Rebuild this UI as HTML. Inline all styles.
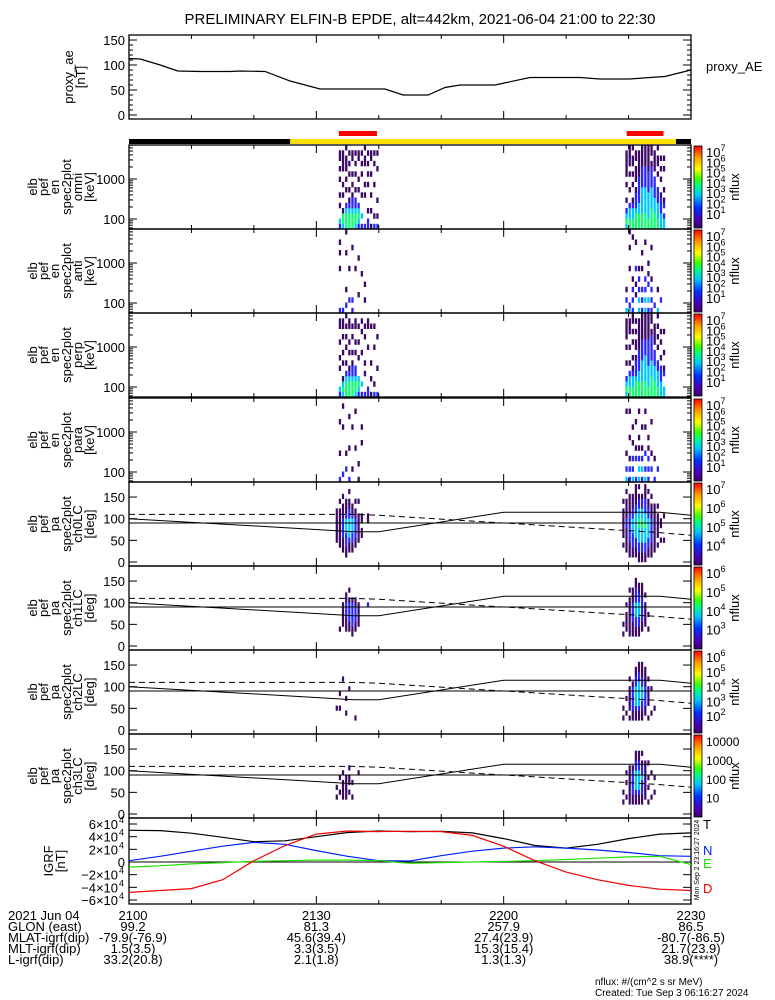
<!DOCTYPE html>
<html><head><meta charset="utf-8"><style>
html,body{margin:0;padding:0;background:#fff;}
svg{display:block;font-family:"Liberation Sans",sans-serif;}
</style></head><body>
<svg id="c" width="775" height="1000" viewBox="0 0 775 1000" xmlns="http://www.w3.org/2000/svg">
<rect width="775" height="1000" fill="#fff"/>
<text x="420" y="24" font-size="15" text-anchor="middle">PRELIMINARY ELFIN-B EPDE, alt=442km, 2021-06-04 21:00 to 22:30</text>
</svg>
<script>
// ---------- data ----------
const aeTimes = [0,1.8,5,7.8,11.4,16.2,17.8,21.8,25.8,30.6,41,43.9,47.9,50.6,53,58.6,64.2,72.2,75.4,80.2,83.4,85.8,90];
const aeValues = [113,112,100,88,87,87,88,87,68,52,52,40,40,55,60,60,75,75,72,72,75,77,90];
const aeTicks = [0,50,100,150];
const timeTickLabels = ["2100","2130","2200","2230"];
const timeTickMinutes = [0,30,60,90];
const eTicks = [100,1000];
const paTicks = [0,50,100,150];
const igrfTimes = [0,5,10,15,20,25,30,35,40,45,50,55,60,65,70,75,80,85,90];
const igrfT = [50000,49500,45500,39000,32000,33500,40000,46500,49000,48000,48500,46000,37000,26000,22000,28000,37000,44000,46000];
const igrfN = [2000,9000,17000,25000,31000,28000,18000,9000,2000,1500,10000,17000,22000,24000,22000,19000,15000,10000,9000];
const igrfE = [-8000,-6000,-3000,-1000,1000,2000,3000,3000,2000,-2000,-1000,0,1000,2000,4000,6000,8000,9000,-4000];
const igrfD = [-48000,-45000,-42000,-28000,2000,26000,44000,49000,48000,48500,48000,42000,25000,2000,-16000,-28000,-37000,-43000,-45000];
const lcTimes = [0,36,40,60,85,90];
const lcSolid = [100,70,70,115,115,108];
const lcDashed = [110,110,108,90,68,62];
const redBarStarts = [33.6,79.7];
const redBarEnds = [39.7,85.6];
const sunlitStart = 25.8, sunlitEnd = 87.6;
const blobStarts = [33.6,79.5];
// spectrogram columns: chars = log10 flux level per bin (bottom→top), '.' = no data
const specOmni = [[
"23..1.1..1.1.11.","3441..1.1..1111.","44432..1.1.111.1","444321.1..1.1.1.","4443221.1.1..11.","344322.1..1.1.1.","23432..1.1...11.","2.3...1...1.1.1.","2.....1.1...11.1","22.1....1.1.1.1.","1..1..1...1..11.","2.1.....1...1.1.","2.1..1.....1..1."],[
"3432.1..1.11111.","44332..1..1.1111","443321..1.1.11.1","44432221.111.11.","444332222211111.","4443333322221111","4443333322221111","4433333222211111","4444333322221.11","4443332222.1111.","44333222..1.11.1","3332221..1.1.1..","332.21.1...1.1.."]];
const specAnti = [[
"2.......1..1.1..","2...............",".2..1......1...1","..2.....1.......","2.2.........1...","........1.......","...1......1.....",".......1........","..1..1.........."],[
"3.2.1...........","32......1...1..1","2.2.2.1.......1.","...1.1..2....1..","3.3.2.2.1.......","2.2.2...1..1....","3.3.2.2......1..","2.3..2.1.1......","2.2.2.1.....1...",".2..............","3...1...........","..2............."]];
const specPerp = [[
"23...1.1..1..11.","3431..1.1..1.11.","44432.1..1.1.1.1","444321..1.1..11.","4443221.1..1.1..","344322..1.1..11.","2343...1..1..1..","2.3.....1...1.1.","2...1.1....1.1..","22.......1...11.","1..1..1......1..","2.1......1...1..","2....1.....1...."],[
"3432..1..1.1111.","44332.1..1..111.","443321.1..1.1.11","44432221.11.1.1.","444332222111111.","4443333222211111","4443333322211111","4433332222211111","4444333222221.11","444333222.1111..","4433322..1.1.1.1","333222.1..1.1...","33..21..1...1..."]];
const specPara = [[
"2....1.....1....",".2........1...1.","..2..1..........","2.....1.....1...","..1.......1.....","......1......1..","1..1............",".......1..1....."],[
"3.2..1.......1..","2.2.1...1....1..","3.2.2..1..1.....","2...2.1....1....","3.3.2.1.1....1..","2.3.2.1...1.....","3.2..2....1..1..","2.2.2.1.1.......","..2..1.....1....","2...1...........","..2............."]];
const paCh0 = [[
"....1111111.....","...11111111.1...","..1112222111.1..",".112223332111...","..11233332211.1.","..1122333211....","...11222211.1...","....111111..1...",".....11.11......","................","........11......"],[
"...1.111111.1...","..11111221111.1.",".1112222221111..",".1122233322111..",".112233333221111","11223334433221.1","11223334433221..","1122333433222111",".112233332211.1.",".11122222111.1..","..1111111111....","...1.11111.1....","....1..11.......","....1....1......"]];
const paCh1 = [[
"................","...1............","....11111.......","...11122211.....","...1122221.1....","..11222221......","...1122211......","....11111.......","................","................","........2......."],[
"..1.1...........","...1111.1.......","..11111111.1....","..1112222111....","..112233322211..","..11223332211...","...1122222111...","....11111.1.....","...1..1.........","................"]];
const paCh2 = [[
"....1...........","....1..1........","..........1.....","...1..1.........","........1.......","................","..1.............","................"],[
"..1.1...........","...1..1.........","..1.11111.1.....","..11222221......","..11233332211...","..112333332211..","..112233322111..","...1122221111...","..1..1111.1.....","...1....1.......","....1..........."]];
const paCh3 = [[
"...1.1..........","....1..1........","...1111.1.......","...11111........","....1.11.1......","...1..1.........","................","........1......."],[
"..1.1...........","...1..1.1.......","..11111111......","..11222221......","..11233332211...","..11233332211...","..112223221.1...","...11111111.....","..1..1.1..1.....","...1....1.......","....1..1........"]];
const cbLabelsSpec = [7,6,5,4,3,2,1];
const cbLabelsCh0 = [7,6,5,4];
const cbLabelsCh1 = [6,5,4,3];
const cbLabelsCh2 = [6,5,4,3,2];
const cbLabelsCh3 = ["10000","1000","100","10"];
</script>
<script>
const svg = document.getElementById('c');
const NS = 'http://www.w3.org/2000/svg';
const X0 = 129, X1 = 691;
function xT(t){ return X0 + t/90*(X1-X0); }
function mk(tag, attrs, parent){
  const e = document.createElementNS(NS, tag);
  for (const k in attrs) e.setAttribute(k, attrs[k]);
  (parent||svg).appendChild(e);
  return e;
}
const levelColors = ['#000','#3c0a64','#2a28ff','#00c8ff','#10ff70','#ffff00','#ff9000','#ff0000'];

// defs gradient
const defs = mk('defs',{});
const grad = mk('linearGradient',{id:'cmap',x1:'0',y1:'1',x2:'0',y2:'0'},defs);
[['0','#3c0064'],['0.1','#4b00b4'],['0.25','#0030ff'],['0.4','#00c8ff'],['0.52','#00ff80'],['0.6','#40ff00'],['0.72','#ffff00'],['0.86','#ff9900'],['1','#ff0000']].forEach(s=>mk('stop',{offset:s[0],'stop-color':s[1]},grad));

function xTicks(top, bot, g){
  for (let t=0; t<=90; t+=10){
    const x = xT(t), L = (t%30===0)?8:4;
    mk('line',{x1:x,y1:bot,x2:x,y2:bot-L,stroke:'#000','stroke-width':1},g);
    mk('line',{x1:x,y1:top,x2:x,y2:top+L,stroke:'#000','stroke-width':1},g);
  }
}
function frame(top, bot, name){
  const g = mk('g',{});
  
  
  mk('rect',{x:X0,y:top,width:X1-X0,height:bot-top,fill:'none',stroke:'#000','stroke-width':1.3},g);
  xTicks(top,bot,g);
  return g;
}
function yLabel(lines, top, bot, xs, name){
  const g = mk('g',{});
  
  
  const cy = (top+bot)/2;
  lines.forEach((s,i)=>{
    const t = mk('text',{x:0,y:0,'font-size':13,'text-anchor':'middle',transform:`translate(${xs[i]+5},${cy}) rotate(-90)`},g);
    t.textContent = s;
  });
}
function polyline(times, vals, yf, attrs, name){
  const pts = times.map((t,i)=>xT(t).toFixed(1)+','+yf(vals[i]).toFixed(1)).join(' ');
  const p = mk('polyline',Object.assign({points:pts,fill:'none'},attrs));
  
  
  return p;
}
function supLabel(x, y, exp, g){
  const t = mk('text',{x:x,y:y,'font-size':13},g);
  t.appendChild(document.createTextNode('10'));
  const s = mk('tspan',{'font-size':9,dy:-6},t);
  s.textContent = exp;
}

// ---------- AE panel ----------
const aeTop=35, aeBot=119;
const aeY = v => 115 - v*0.5;
frame(aeTop, aeBot, 'proxy-ae-panel');
aeTicks.forEach(v=>{
  const y = aeY(v);
  const t = mk('text',{x:125,y:y+5,'font-size':13,'text-anchor':'end'});
  
  
  t.textContent = v;
  mk('line',{x1:X0,y1:y,x2:X0+8,y2:y,stroke:'#000'});
  mk('line',{x1:X1,y1:y,x2:X1-8,y2:y,stroke:'#000'});
});
for (let v=10; v<160; v+=10){ if (v%50){ const y=aeY(v); mk('line',{x1:X0,y1:y,x2:X0+4,y2:y,stroke:'#000'}); mk('line',{x1:X1,y1:y,x2:X1-4,y2:y,stroke:'#000'}); } }
polyline(aeTimes, aeValues, aeY, {stroke:'#000','stroke-width':1.2}, 'proxy-ae-line');
yLabel(['proxy_ae','[nT]'], aeTop, aeBot, [68,80], 'ae-y-title');
const aeLeg = mk('text',{x:706,y:71,'font-size':13});


aeLeg.textContent = 'proxy_AE';

// ---------- bars ----------
redBarStarts.forEach((s,i)=>{
  const r = mk('rect',{x:xT(s),y:131,width:xT(redBarEnds[i])-xT(s),height:5,fill:'#f00'});
  
  
});
const bb = mk('rect',{x:X0,y:139,width:X1-X0,height:5,fill:'#000'});


const yb = mk('rect',{x:xT(sunlitStart),y:139,width:xT(sunlitEnd)-xT(sunlitStart),height:5,fill:'#f8e000'});



// ---------- spectrogram panels ----------
const panelTops = [145,229,313,398,482,566,650,734];
const PH = 84;
function drawCells(data, top, name){
  const g = mk('g',{});
  
  
  const bot = top+PH, rh = PH/16, cw = xT(0.5)-xT(0);
  data.forEach((blob,bi)=>{
    blob.forEach((col,ci)=>{
      const x = xT(blobStarts[bi] + ci*0.5);
      for (let i=0;i<col.length;i++){
        const c = col[i]; if (c==='.') continue;
        mk('rect',{x:x.toFixed(1),y:(bot-(i+1)*rh).toFixed(1),width:(cw*0.75).toFixed(1),height:(rh+0.3).toFixed(1),fill:levelColors[+c]},g);
      }
    });
  });
}
function colorbar(top, labels, name){
  const g = mk('g',{});
  
  
  mk('rect',{x:694,y:top+1,width:8,height:PH-2,fill:'url(#cmap)',stroke:'#000','stroke-width':0.8},g);
  const n = labels.length;
  labels.forEach((l,i)=>{
    const y = top + 12 + i*((PH-16)/(n-0.4));
    if (typeof l === 'string'){ const t=mk('text',{x:706,y:y,'font-size':12},g); t.textContent=l; }
    else supLabel(706, y, l, g);
  });
  const t = mk('text',{x:0,y:0,'font-size':13,'text-anchor':'middle',transform:`translate(739,${top+PH/2}) rotate(-90)`},g);
  t.textContent = 'nflux';
}
const specSets = [[specOmni,'omni'],[specAnti,'anti'],[specPerp,'perp'],[specPara,'para']];
specSets.forEach((s,k)=>{
  const top = panelTops[k], bot = top+PH;
  drawCells(s[0], top, 'spectrogram-'+s[1]);
  frame(top, bot, 'energy-panel-'+s[1]);
  const eY = e => top + 34 + (3-Math.log10(e))*40;
  eTicks.forEach(e=>{
    const y = eY(e);
    const t = mk('text',{x:125,y:y+5,'font-size':13,'text-anchor':'end'});
    
    
    t.textContent = e;
    mk('line',{x1:X0,y1:y,x2:X0+8,y2:y,stroke:'#000'});
    mk('line',{x1:X1,y1:y,x2:X1-8,y2:y,stroke:'#000'});
  });
  [60,70,80,90,200,300,400,500,600,700,800,900,2000,3000,4000,5000,6000,7000].forEach(e=>{
    const y=eY(e); if (y<top||y>bot) return;
    mk('line',{x1:X0,y1:y,x2:X0+4,y2:y,stroke:'#000'}); mk('line',{x1:X1,y1:y,x2:X1-4,y2:y,stroke:'#000'});
  });
  yLabel(['elb','pef','en','spec2plot',s[1],'[keV]'], top, bot, [32,43,54,66,77,89], 'energy-y-title-'+s[1]);
  colorbar(top, cbLabelsSpec, 'colorbar-'+s[1]);
});

// ---------- pitch angle panels ----------
const paSets = [[paCh0,'ch0LC',cbLabelsCh0],[paCh1,'ch1LC',cbLabelsCh1],[paCh2,'ch2LC',cbLabelsCh2],[paCh3,'ch3LC',cbLabelsCh3]];
paSets.forEach((s,k)=>{
  const top = panelTops[4+k], bot = top+PH;
  const pY = a => bot - 4 - a*0.433;
  const g = mk('g',{});
  
  
  const cw = xT(0.5)-xT(0), rh = 11.25*0.433;
  s[0].forEach((blob,bi)=>{
    blob.forEach((col,ci)=>{
      const x = xT(blobStarts[bi]-0.5 + ci*0.5);
      for (let i=0;i<col.length;i++){
        const c = col[i]; if (c==='.') continue;
        mk('rect',{x:x.toFixed(1),y:(pY((i+1)*11.25)).toFixed(1),width:(cw*0.7).toFixed(1),height:(rh+0.3).toFixed(1),fill:levelColors[+c]},g);
      }
    });
  });
  frame(top, bot, 'pa-panel-'+s[1]);
  const h = mk('line',{x1:X0,y1:pY(90),x2:X1,y2:pY(90),stroke:'#000','stroke-width':1});
  
  
  polyline(lcTimes, lcSolid, pY, {stroke:'#000','stroke-width':1}, 'loss-cone-line');
  polyline(lcTimes, lcDashed, pY, {stroke:'#000','stroke-width':1,'stroke-dasharray':'6,4'}, 'anti-loss-cone-line');
  paTicks.forEach(a=>{
    const y = pY(a);
    const t = mk('text',{x:125,y:y+5,'font-size':13,'text-anchor':'end'});
    
    
    t.textContent = a;
    mk('line',{x1:X0,y1:y,x2:X0+8,y2:y,stroke:'#000'});
    mk('line',{x1:X1,y1:y,x2:X1-8,y2:y,stroke:'#000'});
  });
  yLabel(['elb','pef','pa','spec2plot',s[1],'[deg]'], top, bot, [32,43,54,66,77,89], 'pa-y-title-'+s[1]);
  colorbar(top, s[2], 'colorbar-'+s[1]);
});

// ---------- IGRF panel ----------
const igTop=818, igBot=904;
const igY = v => 862 - v*76/120000;
frame(igTop, igBot, 'igrf-panel');
[-6,-4,-2,0,2,4,6].forEach(m=>{
  const y = igY(m*10000);
  const g = mk('g',{});
  
  
  if (m===0){ const t=mk('text',{x:125,y:y+5,'font-size':13,'text-anchor':'end'},g); t.textContent='0'; }
  else {
    const t=mk('text',{x:118,y:y+5,'font-size':13,'text-anchor':'end'},g);
    t.textContent = (m<0?'\u2212':'')+Math.abs(m)+'\u00d710';
    const s=mk('text',{x:119,y:y-1,'font-size':9},g); s.textContent='4';
  }
  mk('line',{x1:X0,y1:y,x2:X0+8,y2:y,stroke:'#000'});
  mk('line',{x1:X1,y1:y,x2:X1-8,y2:y,stroke:'#000'});
});
const zl = mk('line',{x1:X0,y1:igY(0),x2:X1,y2:igY(0),stroke:'#000'});


polyline(igrfTimes, igrfT, igY, {stroke:'#000','stroke-width':1.2}, 'igrf-t-line');
polyline(igrfTimes, igrfN, igY, {stroke:'#0020ff','stroke-width':1.2}, 'igrf-n-line');
polyline(igrfTimes, igrfE, igY, {stroke:'#20e000','stroke-width':1.2}, 'igrf-e-line');
polyline(igrfTimes, igrfD, igY, {stroke:'#f00000','stroke-width':1.2}, 'igrf-d-line');
yLabel(['IGRF','[nT]'], igTop, igBot, [48,60], 'igrf-y-title');
[['T','#000',829],['N','#0020ff',855],['E','#20e000',868],['D','#f00000',893]].forEach(l=>{
  const t = mk('text',{x:703,y:l[2],'font-size':13,fill:l[1]});
  
  
  t.textContent = l[0];
});
const ts = mk('text',{x:0,y:0,'font-size':7,'text-anchor':'middle',transform:'translate(699,860) rotate(-90)'});


ts.textContent = 'Mon Sep  2 23:16:27 2024';

// ---------- bottom annotation ----------
const rowY = [920,931,942,953,964];
const rowNames = ['2021 Jun 04','GLON (east)','MLAT-igrf(dip)','MLT-igrf(dip)','L-igrf(dip)'];
const glon = ['99.2','81.3','257.9','86.5'];
const mlat = ['-79.9(-76.9)','45.6(39.4)','27.4(23.9)','-80.7(-86.5)'];
const mlt = ['1.5(3.5)','3.3(3.5)','15.3(15.4)','21.7(23.9)'];
const lval = ['33.2(20.8)','2.1(1.8)','1.3(1.3)','38.9(****)'];
const rows = [timeTickLabels, glon, mlat, mlt, lval];
rowNames.forEach((n,i)=>{
  const t = mk('text',{x:8,y:rowY[i],'font-size':13});
  
  
  t.textContent = n;
  rows[i].forEach((v,j)=>{
    const tt = mk('text',{x:xT(timeTickMinutes[j]) + (j===0?4:0),y:rowY[i],'font-size':13,'text-anchor':'middle'});
    
    
    tt.textContent = v;
  });
});
const f1 = mk('text',{x:595,y:985,'font-size':10});


f1.textContent = 'nflux: #/(cm^2 s sr MeV)';
const f2 = mk('text',{x:595,y:996,'font-size':10});


f2.textContent = 'Created: Tue Sep  3 06:16:27 2024';
</script>
</body></html>
